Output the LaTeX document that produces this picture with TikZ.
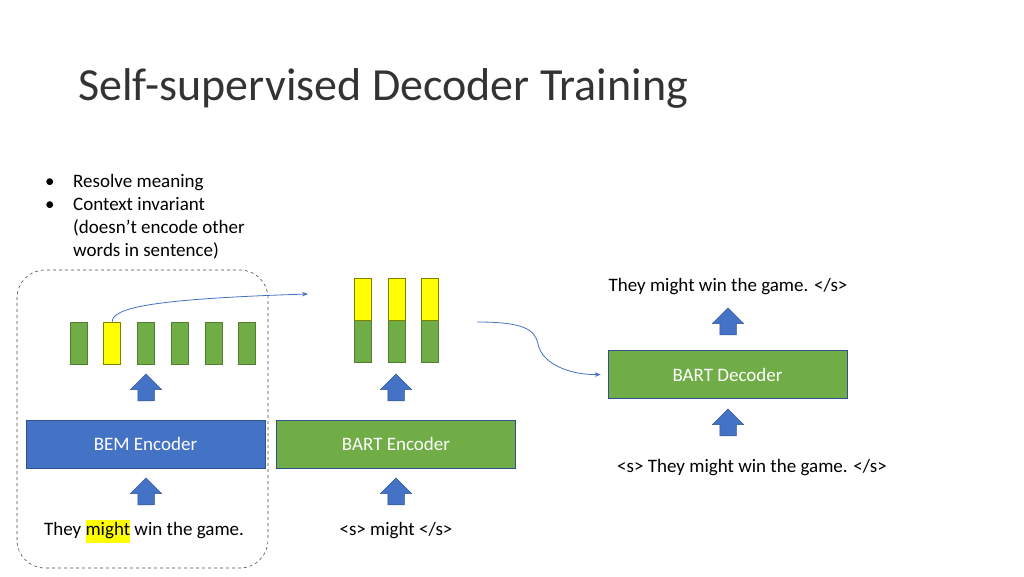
\documentclass[tikz,border=0pt]{standalone}
\usepackage{fontspec}
\setmainfont{Carlito}
\usetikzlibrary{arrows.meta,positioning,shapes.arrows}
\definecolor{bemblue}{HTML}{4472C4}
\definecolor{bartgreen}{HTML}{70AD47}
\definecolor{barline}{HTML}{507E32}
\definecolor{edgeblue}{HTML}{2F528F}
\definecolor{tokyellow}{HTML}{FFFF00}
\definecolor{ylwline}{HTML}{7F7F00}
\tikzset{
  encbox/.style={draw=edgeblue,line width=0.6pt,minimum width=239pt,minimum height=48pt,inner sep=0pt,text=white,font=\fontsize{19}{23}\selectfont},
  bembox/.style={encbox,fill=bemblue},
  grnbox/.style={encbox,fill=bartgreen},
  tokbar/.style={draw=barline,fill=bartgreen,line width=0.5pt,minimum width=17pt,minimum height=42pt,inner sep=0pt},
  ylwbar/.style={tokbar,draw=ylwline,fill=tokyellow},
  uparr/.style={single arrow,draw=edgeblue,fill=bemblue,line width=0.5pt,rotate=90,minimum height=27pt,minimum width=31pt,single arrow head extend=7.5pt,inner sep=8pt},
  thinarr/.style={-{Stealth[length=6pt,width=4.5pt]},line width=0.8pt,draw=bemblue},
  sent/.style={inner sep=0pt,font=\fontsize{19}{23}\selectfont}
}

\begin{document}
\begin{tikzpicture}[x=1pt,y=1pt]
  \useasboundingbox (0,0) rectangle (1024,576);
  \node[anchor=base west,inner sep=0pt,font=\fontsize{46}{54}\selectfont,text=black!80] (title) at (78,475) {Self-supervised Decoder Training};
  \node[anchor=north west,inner sep=0pt,font=\fontsize{19}{23}\selectfont] (notes) at (45,405) {%
    \begin{tabular}{@{}p{28pt}@{}l@{}}
      \textbullet & Resolve meaning\\
      \textbullet & Context invariant\\
       & (doesn’t encode other\\
       & words in sentence)
    \end{tabular}};

  % BEM side
  \draw[dashed,line width=0.6pt,draw=black!70,rounded corners=28pt] (17,8) rectangle (268,306);
  \foreach \i/\x in {1/78.5,2/112.2,3/145.9,4/179.6,5/213.3,6/247}
    \node[tokbar] (b\i) at (\x,233) {};
  \node[ylwbar] at (b2) {};
  \node[uparr] (ua) at (146,184.5) {};
  \node[bembox] (bem) at (145.5,132) {BEM Encoder};
  \node[uparr] (ub) at (146,80.5) {};
  \node[sent] (ctx) at (144,45) {They {\setlength{\fboxsep}{0pt}\colorbox{tokyellow}{\strut might}} win the game.};

  % BART encoder
  \foreach \i/\x in {1/362.5,2/396.5,3/429.5} {
    \node[tokbar] (g\i) at (\x,234.5) {};
    \node[ylwbar,anchor=south] (y\i) at (g\i.north) {};
  }
  \node[uparr] (uc) at (396,184.5) {};
  \node[grnbox] (benc) at (396,132) {BART Encoder};
  \node[uparr] (ud) at (396,80.5) {};
  \node[sent] (inp) at (396,45) {<s> might </s>};

  % BART decoder
  \node[grnbox] (bdec) at (727.5,201.5) {BART Decoder};
  \node[uparr] (ue) at (728,250.5) {};
  \node[sent] (out) at (728,289) {They might win the game. </s>};
  \node[uparr] (uf) at (728,149.5) {};
  \node[sent] (dinp) at (752,108) {<s> They might win the game. </s>};

  \coordinate (tip) at (308,282);
  \coordinate (tail) at (477,254);
  \draw[thinarr] (b2.north) .. controls (112.5,268) and (150,277) .. (tip);
  \draw[thinarr] (tail) .. controls (525,254) and (535,246) .. (538,232)
    .. controls (542,212) and (570,201) .. ([xshift=-7pt]bdec.west);
\end{tikzpicture}
\end{document}
